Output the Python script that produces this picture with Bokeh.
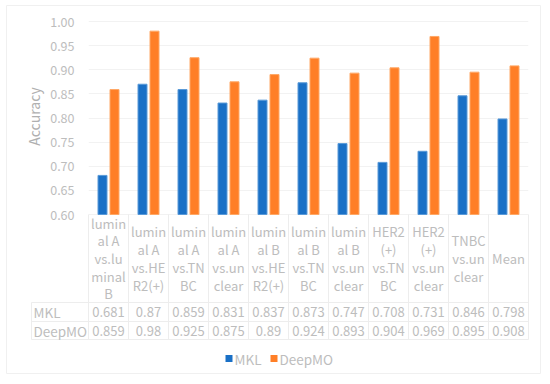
from bokeh.plotting import figure
from bokeh.models import FixedTicker, ColumnDataSource, CustomJSTickFormatter
from bokeh.core.properties import value
from bokeh.transform import dodge
from bokeh.embed import file_html
from bokeh.resources import INLINE

# ---- data ----
categories = [
    "lumin\nal A\nvs.lu\nminal\nB",
    "lumin\nal A\nvs.HE\nR2(+)",
    "lumin\nal A\nvs.TN\nBC",
    "lumin\nal A\nvs.un\nclear",
    "lumin\nal B\nvs.HE\nR2(+)",
    "lumin\nal B\nvs.TN\nBC",
    "lumin\nal B\nvs.un\nclear",
    "HER2\n(+)\nvs.TN\nBC",
    "HER2\n(+)\nvs.un\nclear",
    "TNBC\nvs.un\nclear",
    "Mean",
]
mkl = [0.681, 0.87, 0.859, 0.831, 0.837, 0.873, 0.747, 0.708, 0.731, 0.846, 0.798]
deepmo = [0.859, 0.98, 0.925, 0.875, 0.89, 0.924, 0.893, 0.904, 0.969, 0.895, 0.908]
mkl_labels = ["0.681", "0.87", "0.859", "0.831", "0.837", "0.873", "0.747", "0.708", "0.731", "0.846", "0.798"]
deepmo_labels = ["0.859", "0.98", "0.925", "0.875", "0.89", "0.924", "0.893", "0.904", "0.969", "0.895", "0.908"]
series_names = ["MKL", "DeepMO"]
y_ticks = [0.60, 0.65, 0.70, 0.75, 0.80, 0.85, 0.90, 0.95, 1.00]

# ---- styling / layout constants ----
BLUE = "#1a70c6"
ORANGE = "#ff7f27"
COLORS = [BLUE, ORANGE]
TEXT = "#bdbdbd"
LINE = "#ededed"
FONT = "Noto Sans CJK SC"
PX = 0.4 / 193.0            # data units per vertical pixel
LINE_H = 17.7 * PX          # header text line spacing
n = len(categories)

y_base = 0.60
y_hdr = y_base - 88 * PX     # header row bottom
y_r1 = y_hdr - 19 * PX       # MKL row bottom
y_r2 = y_r1 - 18 * PX        # DeepMO row bottom
x_lab = -55 / 40.0           # row label column left
x_tbl = -57 / 40.0
y_leg = y_base - 144 * PX    # legend row
leg_sq_x0 = [137 / 40.0, 182 / 40.0]
leg_sq_x1 = [144 / 40.0, 189 / 40.0]
leg_tx_x = [146 / 40.0, 191 / 40.0]
# faint outer chart border
bx0, bx1 = -82 / 40.0, 452 / 40.0
by0, by1 = y_base - 159 * PX, 1.0 + 16 * PX

p = figure(width=542, height=376, output_backend="svg", toolbar_location=None,
           x_range=(0, n), y_range=(0.6 - 2 * PX, 1.0 + 5 * PX),
           min_border_left=88, min_border_right=14, min_border_top=16, min_border_bottom=160)
p.outline_line_color = None
p.xaxis.visible = False
p.xgrid.visible = False

p.yaxis.ticker = FixedTicker(ticks=y_ticks)
p.yaxis.axis_line_color = None
p.yaxis.major_tick_line_color = None
p.yaxis.minor_tick_line_color = None
p.yaxis.major_tick_out = 0
p.yaxis.major_tick_in = 0
p.yaxis.major_label_standoff = 14
p.yaxis.major_label_text_color = TEXT
p.yaxis.major_label_text_font = FONT
p.yaxis.major_label_text_font_size = "12.5px"
p.yaxis.formatter = CustomJSTickFormatter(code="return tick.toFixed(2)")
p.yaxis.axis_label = "Accuracy"
p.yaxis.axis_label_text_color = "#b0b0b0"
p.yaxis.axis_label_text_font = FONT
p.yaxis.axis_label_text_font_size = "14px"
p.yaxis.axis_label_text_font_style = "normal"
p.yaxis.axis_label_standoff = 3
p.ygrid.ticker = FixedTicker(ticks=y_ticks)
p.ygrid.grid_line_color = "#f2f2f2"

xs = [i + 0.5 for i in range(n)]
src = ColumnDataSource(dict(x=xs, mkl=mkl, deepmo=deepmo,
                            ml=mkl_labels, dl=deepmo_labels))
r1 = p.vbar(x=dodge("x", -0.15), top="mkl", bottom=y_base, width=0.225, source=src,
            fill_color=BLUE, line_color="#5a9ad8", line_width=1)
r2 = p.vbar(x=dodge("x", 0.15), top="deepmo", bottom=y_base, width=0.225, source=src,
            fill_color=ORANGE, line_color="#ffa866", line_width=1)

# outer border
p.segment(x0=[bx0, bx0, bx0, bx1], x1=[bx1, bx1, bx0, bx1],
          y0=[by0, by1, by0, by0], y1=[by0, by1, by1, by1],
          line_color="#f0f0f0", line_width=1, level="overlay")

# table grid lines (drawn below the frame, so at overlay level)
vx = list(range(n + 1))
p.segment(x0=vx, x1=vx, y0=[y_base] * (n + 1), y1=[y_r2] * (n + 1),
          line_color=LINE, line_width=1, level="overlay")
hy = [y_hdr, y_r1, y_r2]
p.segment(x0=[x_tbl] * 3, x1=[n] * 3, y0=hy, y1=hy, line_color=LINE,
          line_width=1, level="overlay")
p.segment(x0=[x_tbl], x1=[x_tbl], y0=[y_hdr], y1=[y_r2], line_color=LINE,
          line_width=1, level="overlay")

# header texts: one glyph per wrapped line, centred in the header row
hx, hy_, ht = [], [], []
y_mid = (y_base + y_hdr) / 2
for i, cat in enumerate(categories):
    lines = cat.split("\n")
    k = len(lines)
    for j, ln in enumerate(lines):
        hx.append(xs[i])
        hy_.append(y_mid + ((k - 1) / 2 - j) * LINE_H)
        ht.append(ln)
p.text(x=hx, y=hy_, text=ht, text_align="center",
       text_baseline="middle", text_color=TEXT, text_font=value(FONT),
       text_font_size="13px", level="overlay")
p.text(x="x", y=(y_hdr + y_r1) / 2, text="ml", source=src, text_align="center",
       text_baseline="middle", text_color=TEXT, text_font=value(FONT), text_font_size="13px",
       level="overlay")
p.text(x="x", y=(y_r1 + y_r2) / 2, text="dl", source=src, text_align="center",
       text_baseline="middle", text_color=TEXT, text_font=value(FONT), text_font_size="13px",
       level="overlay")
p.text(x=[x_lab, x_lab], y=[(y_hdr + y_r1) / 2, (y_r1 + y_r2) / 2], text=series_names,
       text_align="left", text_baseline="middle", text_color=TEXT,
       text_font=value(FONT), text_font_size="13.5px", level="overlay")

# legend (drawn by hand below the table): squares as thick short segments
p.segment(x0=leg_sq_x0, x1=leg_sq_x1, y0=[y_leg] * 2, y1=[y_leg] * 2,
          line_color=COLORS, line_width=7, line_cap="butt", level="overlay")
p.text(x=leg_tx_x, y=[y_leg] * 2, text=series_names, text_align="left",
       text_baseline="middle", text_color=TEXT, text_font=value(FONT),
       text_font_size="13.5px", level="overlay")

open("out.html", "w").write(file_html(p, INLINE))
